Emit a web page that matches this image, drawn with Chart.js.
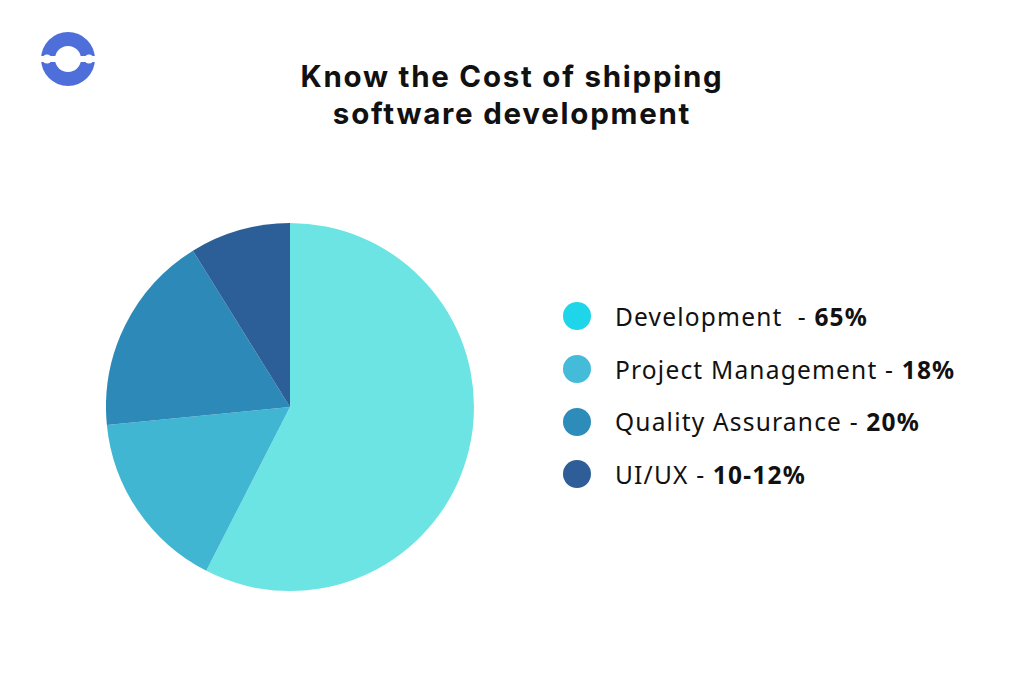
<!DOCTYPE html>
<html>
<head>
<meta charset="utf-8">
<script src="https://cdn.jsdelivr.net/npm/chart.js@4.4.1/dist/chart.umd.min.js"></script>
<style>
  html, body { margin: 0; padding: 0; background: #fff; }
  body { width: 1024px; height: 683px; position: relative; overflow: hidden; font-family: "Noto Sans", "Open Sans", sans-serif; color: #111; }
  #logo { position: absolute; left: 40px; top: 31px; }
  #title { position: absolute; left: 0; top: 58px; width: 1024px; text-align: center; font-family: Inter, "Noto Sans", sans-serif; font-size: 29.5px; font-weight: 700; line-height: 36.6px; letter-spacing: 1.75px; }
  #chartBox { position: absolute; left: 106px; top: 223px; width: 368px; height: 368px; }
  #legend { position: absolute; left: 563px; top: 290px; }
  .row { display: flex; align-items: center; height: 52.7px; font-size: 24.5px; letter-spacing: 1.2px; white-space: pre; }
  .dot { width: 28px; height: 28px; border-radius: 50%; margin-right: 24px; }
  .row b { font-weight: 700; }
</style>
</head>
<body>
<svg id="logo" width="56" height="56" viewBox="0 0 56 56">
  <circle cx="28" cy="28" r="27" fill="#4e6ed9"/>
  <circle cx="28" cy="28" r="13" fill="#fff"/>
  <rect x="0" y="25" width="56" height="6" fill="#fff"/>
  <circle cx="7" cy="28" r="4.5" fill="#fff"/>
  <circle cx="49" cy="28" r="4.5" fill="#fff"/>
</svg>
<div id="title">Know the Cost of shipping<br>software development</div>
<div id="chartBox"><canvas id="pieChart"></canvas></div>
<div id="legend"></div>
<script>
// Chart data
const categories = ['Development', 'Project Management', 'Quality Assurance', 'UI/UX'];
const shares = [65, 18, 20, 10];
const shareLabels = ['65%', '18%', '20%', '10-12%'];
const sliceColors = ['#6ce4e4', '#41b6d3', '#2d8ab8', '#2c5f97'];
const dotColors = ['#1fd5ea', '#44bbd8', '#2e8cba', '#2e5d98'];

// Legend with bold percentages
const legend = document.getElementById('legend');
categories.forEach((name, i) => {
    const row = document.createElement('div');
    row.className = 'row';
    const sep = i === 0 ? '  - ' : ' - ';
    row.innerHTML = '<span class="dot" style="background:' + dotColors[i] + '"></span>' +
        '<span>' + name + sep + '<b>' + shareLabels[i] + '</b></span>';
    legend.appendChild(row);
});

const ctx = document.getElementById('pieChart').getContext('2d');
new Chart(ctx, {
    type: 'pie',
    data: {
        labels: categories,
        datasets: [{
            data: shares,
            backgroundColor: sliceColors,
            borderWidth: 0
        }]
    },
    options: {
        responsive: true,
        maintainAspectRatio: false,
        animation: false,
        layout: { padding: 0 },
        plugins: {
            legend: { display: false },
            tooltip: { enabled: false }
        }
    }
});
</script>
</body>
</html>
